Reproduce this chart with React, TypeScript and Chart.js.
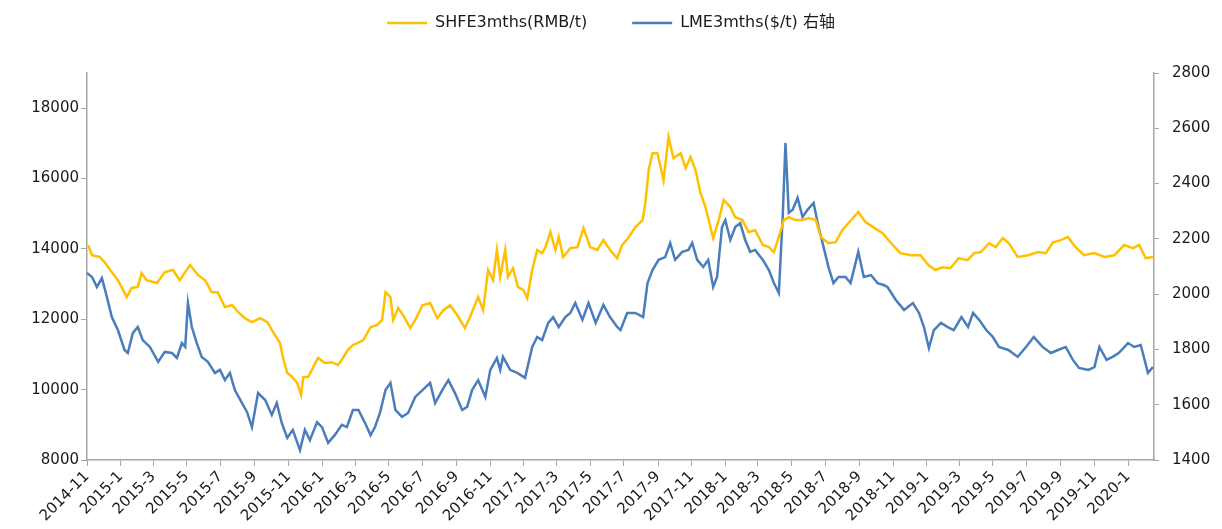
import React, { useEffect, useRef } from 'react';
import { Chart, registerables } from 'chart.js';

Chart.register(...registerables);

const shfeDates = [
  '2014-11-03','2014-11-10','2014-11-24','2014-12-04','2014-12-16','2014-12-27','2015-01-12','2015-01-21','2015-02-01','2015-02-08',
  '2015-02-17','2015-03-08','2015-03-22','2015-04-06','2015-04-18','2015-04-28','2015-05-07','2015-05-21','2015-06-03','2015-06-15',
  '2015-06-26','2015-07-09','2015-07-22','2015-08-02','2015-08-14','2015-08-27','2015-09-11','2015-09-24','2015-10-04','2015-10-17',
  '2015-10-22','2015-10-30','2015-11-08','2015-11-17','2015-11-24','2015-11-28','2015-12-07','2015-12-20','2015-12-25','2016-01-06',
  '2016-01-19','2016-01-30','2016-02-08','2016-02-17','2016-02-26','2016-03-05','2016-03-16','2016-03-29','2016-04-10','2016-04-19',
  '2016-04-25','2016-05-04','2016-05-09','2016-05-18','2016-05-27','2016-06-09','2016-06-18','2016-07-01','2016-07-15','2016-07-28',
  '2016-08-08','2016-08-20','2016-09-02','2016-09-16','2016-09-25','2016-10-10','2016-10-19','2016-10-28','2016-11-06','2016-11-13',
  '2016-11-19','2016-11-28','2016-12-03','2016-12-12','2016-12-21','2016-12-31','2017-01-07','2017-01-16','2017-01-25','2017-02-03',
  '2017-02-09','2017-02-18','2017-02-27','2017-03-05','2017-03-13','2017-03-26','2017-04-08','2017-04-19','2017-05-01','2017-05-14',
  '2017-05-25','2017-06-06','2017-06-19','2017-06-28','2017-07-09','2017-07-22','2017-08-04','2017-08-09','2017-08-15','2017-08-22',
  '2017-08-31','2017-09-11','2017-09-20','2017-09-29','2017-10-12','2017-10-21','2017-10-30','2017-11-08','2017-11-17','2017-11-26',
  '2017-12-05','2017-12-10','2017-12-20','2017-12-29','2018-01-10','2018-01-19','2018-02-01','2018-02-12','2018-02-24','2018-03-10',
  '2018-03-21','2018-03-30','2018-04-08','2018-04-17','2018-04-26','2018-05-08','2018-05-21','2018-06-01','2018-06-14','2018-06-23',
  '2018-07-07','2018-07-20','2018-08-01','2018-08-12','2018-08-30','2018-09-12','2018-09-26','2018-10-13','2018-10-27','2018-11-14',
  '2018-12-03','2018-12-21','2019-01-04','2019-01-17','2019-01-30','2019-02-13','2019-02-28','2019-03-16','2019-03-28','2019-04-09',
  '2019-04-24','2019-05-06','2019-05-19','2019-05-30','2019-06-15','2019-07-04','2019-07-22','2019-08-05','2019-08-18','2019-09-01',
  '2019-09-14','2019-09-28','2019-10-13','2019-11-01','2019-11-19','2019-12-07','2019-12-25','2020-01-10','2020-01-21','2020-02-02','2020-02-16',
];

const shfeValues = [
  14110,13820,13770,13600,13340,13110,12630,12890,12920,13310,
  13110,13030,13340,13400,13110,13340,13540,13260,13110,12770,
  12770,12350,12400,12200,12030,11920,12030,11920,11640,11320,
  10930,10470,10360,10190,9850,10360,10360,10760,10900,10760,
  10780,10700,10900,11130,11270,11320,11410,11780,11840,11980,
  12770,12630,11980,12320,12120,11750,11980,12400,12460,12030,
  12260,12400,12120,11750,12060,12630,12260,13400,13110,13970,
  13200,13970,13200,13450,12920,12830,12600,13400,13970,13880,
  14050,14480,13970,14340,13770,14020,14050,14590,14050,13970,
  14250,13970,13740,14110,14310,14620,14820,15300,16240,16720,
  16720,15950,17180,16580,16720,16300,16610,16240,15590,15190,
  14620,14310,14820,15390,15190,14900,14820,14480,14530,14110,
  14050,13910,14340,14820,14900,14820,14820,14880,14820,14340,
  14160,14190,14530,14730,15050,14760,14620,14450,14190,13880,
  13820,13820,13540,13400,13480,13450,13740,13680,13880,13910,
  14160,14050,14310,14160,13770,13820,13910,13880,14190,14250,
  14340,14050,13820,13880,13770,13820,14110,14020,14110,13740,13770,
];

const lmeDates = [
  '2014-11-01','2014-11-10','2014-11-19','2014-11-28','2014-12-07','2014-12-16','2014-12-27','2015-01-08','2015-01-14','2015-01-23',
  '2015-02-01','2015-02-10','2015-02-23','2015-03-10','2015-03-22','2015-04-04','2015-04-13','2015-04-22','2015-04-28','2015-05-03',
  '2015-05-10','2015-05-19','2015-05-28','2015-06-08','2015-06-21','2015-06-30','2015-07-09','2015-07-18','2015-07-27','2015-08-09',
  '2015-08-18','2015-08-27','2015-09-07','2015-09-20','2015-10-02','2015-10-11','2015-10-20','2015-10-30','2015-11-09','2015-11-22',
  '2015-12-01','2015-12-10','2015-12-23','2016-01-01','2016-01-12','2016-01-24','2016-02-06','2016-02-15','2016-02-26','2016-03-07',
  '2016-03-19','2016-03-29','2016-04-06','2016-04-15','2016-04-25','2016-05-04','2016-05-13','2016-05-25','2016-06-05','2016-06-18',
  '2016-07-01','2016-07-15','2016-07-24','2016-08-06','2016-08-17','2016-08-29','2016-09-11','2016-09-20','2016-09-29','2016-10-10',
  '2016-10-23','2016-11-01','2016-11-13','2016-11-19','2016-11-24','2016-12-07','2016-12-20','2017-01-03','2017-01-16','2017-01-25',
  '2017-02-03','2017-02-14','2017-02-23','2017-03-05','2017-03-17','2017-03-26','2017-04-04','2017-04-17','2017-04-28','2017-05-11',
  '2017-05-25','2017-06-06','2017-06-19','2017-06-25','2017-07-07','2017-07-22','2017-08-05','2017-08-13','2017-08-22','2017-09-02',
  '2017-09-14','2017-09-23','2017-10-02','2017-10-15','2017-10-26','2017-11-02','2017-11-11','2017-11-22','2017-12-01','2017-12-10',
  '2017-12-17','2017-12-26','2018-01-01','2018-01-10','2018-01-19','2018-01-28','2018-02-06','2018-02-15','2018-02-24','2018-03-10',
  '2018-03-21','2018-03-30','2018-04-08','2018-04-15','2018-04-20','2018-04-26','2018-05-03','2018-05-12','2018-05-21','2018-05-30',
  '2018-06-10','2018-06-19','2018-06-28','2018-07-07','2018-07-16','2018-07-25','2018-08-07','2018-08-16','2018-08-30','2018-09-09',
  '2018-09-22','2018-10-04','2018-10-15','2018-10-22','2018-11-06','2018-11-21','2018-12-07','2018-12-18','2018-12-27','2019-01-05',
  '2019-01-14','2019-01-27','2019-02-08','2019-02-19','2019-03-05','2019-03-17','2019-03-26','2019-04-06','2019-04-19','2019-05-01',
  '2019-05-12','2019-05-29','2019-06-15','2019-06-30','2019-07-14','2019-07-30','2019-08-14','2019-08-27','2019-09-10','2019-09-23',
  '2019-10-04','2019-10-21','2019-11-01','2019-11-10','2019-11-23','2019-12-04','2019-12-15','2020-01-01','2020-01-12','2020-01-24','2020-02-06','2020-02-15',
];

const lmeValues = [
  2077,2062,2026,2058,1990,1917,1870,1798,1787,1859,
  1881,1834,1809,1755,1791,1787,1769,1823,1809,1968,
  1881,1823,1773,1755,1715,1726,1689,1715,1653,1606,
  1574,1519,1642,1617,1563,1606,1534,1480,1509,1436,
  1509,1472,1537,1519,1462,1490,1527,1519,1581,1581,
  1534,1490,1519,1570,1653,1679,1581,1556,1570,1628,
  1653,1679,1606,1653,1689,1642,1581,1592,1653,1689,
  1628,1726,1769,1726,1773,1726,1715,1697,1809,1845,
  1834,1896,1917,1881,1917,1932,1968,1907,1968,1896,
  1961,1917,1881,1870,1932,1932,1917,2040,2087,2124,
  2134,2185,2124,2153,2160,2185,2124,2098,2124,2026,
  2062,2243,2268,2196,2243,2257,2196,2153,2160,2124,
  2087,2040,2004,2279,2547,2294,2305,2348,2279,2305,
  2330,2243,2171,2098,2040,2062,2062,2040,2153,2062,
  2069,2040,2033,2026,1979,1943,1968,1932,1881,1805,
  1870,1896,1881,1870,1917,1881,1932,1907,1870,1845,
  1809,1798,1773,1809,1845,1809,1787,1798,1809,1762,
  1733,1726,1736,1809,1762,1773,1787,1823,1809,1816,1715,1736,
];

const xTickLabels = [
  '2014-11','2015-1','2015-3','2015-5','2015-7','2015-9','2015-11',
  '2016-1','2016-3','2016-5','2016-7','2016-9','2016-11',
  '2017-1','2017-3','2017-5','2017-7','2017-9','2017-11',
  '2018-1','2018-3','2018-5','2018-7','2018-9','2018-11',
  '2019-1','2019-3','2019-5','2019-7','2019-9','2019-11','2020-1',
];

const leftTicks = [8000, 10000, 12000, 14000, 16000, 18000];
const rightTicks = [1400, 1600, 1800, 2000, 2200, 2400, 2600, 2800];

const seriesNames = ['SHFE3mths(RMB/t)', 'LME3mths($/t) 右轴'];
const seriesColors = ['#FFC000', '#4A7EBB'];

const START = Date.UTC(2014, 10, 1);
const X_END = '2020-02-17';

function dayOf(s: string): number {
  const parts = s.split('-').map(Number);
  return (Date.UTC(parts[0], parts[1] - 1, parts[2] || 1) - START) / 86400000;
}

const FONT = "'DejaVu Sans', 'Noto Sans CJK SC', sans-serif";
const AXIS_COLOR = '#A6A6A6';

export default function App() {
  const ref = useRef<HTMLCanvasElement | null>(null);

  useEffect(() => {
    if (!ref.current) return;
    const labelMap = new Map<number, string>();
    xTickLabels.forEach((l) => labelMap.set(dayOf(l), l));

    const legendSpace = {
      id: 'legendSpace',
      beforeInit(chart: any) {
        const lg = chart.legend;
        if (lg && !lg.__patched) {
          const orig = lg.fit.bind(lg);
          lg.fit = function () {
            orig();
            this.height += 32;
          };
          lg.__patched = true;
        }
      },
    };

    const chart = new Chart(ref.current, {
      type: 'line',
      data: {
        datasets: [
          {
            label: seriesNames[0],
            data: shfeDates.map((d, i) => ({ x: dayOf(d), y: shfeValues[i] })),
            borderColor: seriesColors[0],
            backgroundColor: seriesColors[0],
            borderWidth: 2.5,
            pointRadius: 0,
            tension: 0,
            yAxisID: 'y',
          },
          {
            label: seriesNames[1],
            data: lmeDates.map((d, i) => ({ x: dayOf(d), y: lmeValues[i] })),
            borderColor: seriesColors[1],
            backgroundColor: seriesColors[1],
            borderWidth: 2.5,
            pointRadius: 0,
            tension: 0,
            yAxisID: 'y1',
          },
        ],
      },
      options: {
        animation: false,
        responsive: false,
        maintainAspectRatio: false,
        layout: { padding: { top: -30, left: 0, right: 0, bottom: 0 } },
        plugins: {
          tooltip: { enabled: false },
          legend: {
            position: 'top',
            labels: {
              usePointStyle: true,
              pointStyle: 'line',
              pointStyleWidth: 40,
              boxWidth: 40,
              padding: 45,
              color: '#1a1a1a',
              font: { family: FONT, size: 16 },
            },
          },
        },
        scales: {
          x: {
            type: 'linear',
            min: 0,
            max: dayOf(X_END),
            afterBuildTicks: (scale: any) => {
              scale.ticks = xTickLabels.map((l) => ({ value: dayOf(l) }));
            },
            afterFit: (scale: any) => {
              scale.height = 69;
            },
            ticks: {
              autoSkip: false,
              minRotation: 45,
              maxRotation: 45,
              padding: 2,
              color: '#1a1a1a',
              font: { family: FONT, size: 15 },
              callback: (v: any) => labelMap.get(Number(v)) ?? '',
            },
            grid: { drawOnChartArea: false, drawTicks: true, tickLength: 6, color: AXIS_COLOR },
            border: { color: AXIS_COLOR, width: 1.5 },
          },
          y: {
            type: 'linear',
            position: 'left',
            min: 8000,
            max: 19000,
            afterBuildTicks: (scale: any) => {
              scale.ticks = leftTicks.map((v) => ({ value: v }));
            },
            afterFit: (scale: any) => {
              scale.width = 87;
            },
            ticks: {
              padding: 2,
              color: '#1a1a1a',
              font: { family: FONT, size: 15 },
              callback: (v: any) => String(v),
            },
            grid: { drawOnChartArea: false, drawTicks: true, tickLength: 6, color: AXIS_COLOR },
            border: { color: AXIS_COLOR, width: 1.5 },
          },
          y1: {
            type: 'linear',
            position: 'right',
            min: 1400,
            max: 2800,
            afterBuildTicks: (scale: any) => {
              scale.ticks = rightTicks.map((v) => ({ value: v }));
            },
            afterFit: (scale: any) => {
              scale.width = 68;
            },
            ticks: {
              padding: 13,
              color: '#1a1a1a',
              font: { family: FONT, size: 15 },
              callback: (v: any) => String(v),
            },
            grid: { drawOnChartArea: false, drawTicks: true, tickLength: 5, color: AXIS_COLOR },
            border: { color: AXIS_COLOR, width: 1.5 },
          },
        },
      },
      plugins: [legendSpace],
    } as any);

    return () => chart.destroy();
  }, []);

  return (
    <div style={{ position: 'absolute', left: 0, top: 0, width: 1222, height: 529, background: '#fff' }}>
      <canvas ref={ref} width={1222} height={529} style={{ display: 'block' }} />
    </div>
  );
}
